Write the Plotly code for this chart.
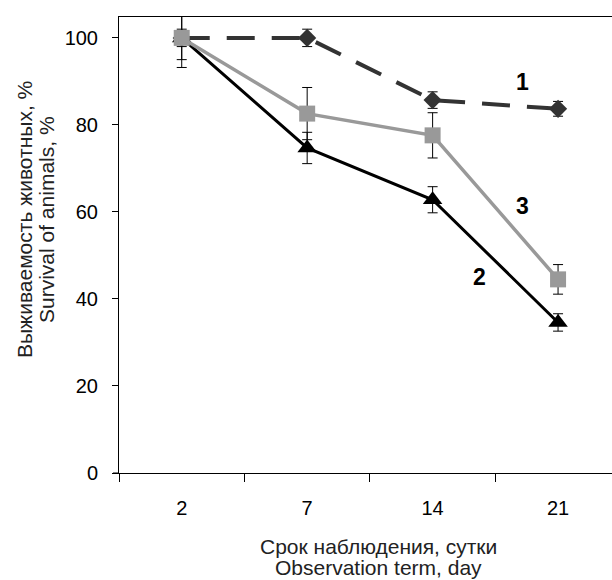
import plotly.graph_objects as go

days = ["2", "7", "14", "21"]
s1 = [100, 100, 85.7, 83.7]
s1_err = [2, 2, 1.9, 1.7]
s2 = [100, 74.7, 62.8, 34.6]
s2_err = [5, 3.6, 3.0, 2.0]
s3 = [100, 82.6, 77.6, 44.5]
s3_err = [6.8, 6.0, 5.2, 3.4]
labels = ["1", "2", "3"]
label_x = [2.72, 2.37, 2.72]
label_y = [89.9, 45.0, 61.4]
ytitle = ["Выживаемость животных, %", "Survival of animals, %"]
xtitle = ["Срок наблюдения, сутки", "Observation term, day"]

FONT = "Liberation Sans, Arial, sans-serif"
L, T, W, H = 119, 17, 612, 580
B = 107
PW, PH = W - L, H - T - B

fig = go.Figure()

def err(v):
    return dict(type="data", array=v, visible=True, color="black", thickness=1, width=5)

fig.add_trace(go.Scatter(
    x=days, y=s1, mode="lines+markers", error_y=err(s1_err),
    line=dict(color="#333333", width=4, dash="28px,17px"),
    marker=dict(symbol="diamond", size=14, color="#333333"),
    showlegend=False))
fig.add_trace(go.Scatter(
    x=days, y=s2, mode="lines+markers", error_y=err(s2_err),
    line=dict(color="black", width=3),
    marker=dict(symbol="triangle-up", size=17, color="black"),
    showlegend=False))
fig.add_trace(go.Scatter(
    x=days, y=s3, mode="lines+markers", error_y=err(s3_err),
    line=dict(color="#999999", width=3.5),
    marker=dict(symbol="square", size=16, color="#999999"),
    showlegend=False))

for t, lx, ly in zip(labels, label_x, label_y):
    fig.add_annotation(x=lx, y=ly, text="<b>%s</b>" % t, showarrow=False,
                       font=dict(size=23, color="black", family=FONT))

# y title lines (pixel centres)
for txt, px in zip(ytitle, [24, 46]):
    fig.add_annotation(xref="paper", yref="paper", x=(px - L) / PW, y=(H - B - 220) / PH,
                       text=txt, textangle=-90, showarrow=False,
                       xanchor="center", yanchor="middle",
                       font=dict(size=21, color="#222222", family=FONT))
# x title lines
for txt, py in zip(xtitle, [546, 567]):
    fig.add_annotation(xref="paper", yref="paper", x=(378 - L) / PW, y=(H - B - py) / PH,
                       text=txt, showarrow=False, xanchor="center", yanchor="middle",
                       font=dict(size=21, color="#222222", family=FONT))

# small extension of the x axis line left of the y axis
fig.add_shape(type="line", xref="paper", yref="paper", x0=-6 / PW, x1=0, y0=0, y1=0,
              line=dict(color="black", width=1))

fig.update_xaxes(type="category", range=[-0.5, 3.43], tickson="boundaries",
                 ticks="outside", ticklen=8, tickcolor="black", tickwidth=1,
                 showline=True, linecolor="black", linewidth=1, mirror=True,
                 showgrid=False, zeroline=False, ticklabelstandoff=17,
                 tickfont=dict(size=20, color="black", family=FONT))
fig.update_yaxes(range=[0, 104.8], tickvals=[0, 20, 40, 60, 80, 100],
                 ticks="outside", ticklen=6, tickcolor="black", tickwidth=1,
                 showline=True, linecolor="black", linewidth=1,
                 showgrid=False, zeroline=False, ticklabelstandoff=10,
                 tickfont=dict(size=20, color="black", family=FONT))

fig.update_layout(width=W, height=H, margin=dict(l=L, r=0, t=T, b=B),
                  plot_bgcolor="white", paper_bgcolor="white",
                  font=dict(family=FONT))

fig.write_html("out.html", config={"displayModeBar": False},
               post_script="document.body.style.margin='0';")
